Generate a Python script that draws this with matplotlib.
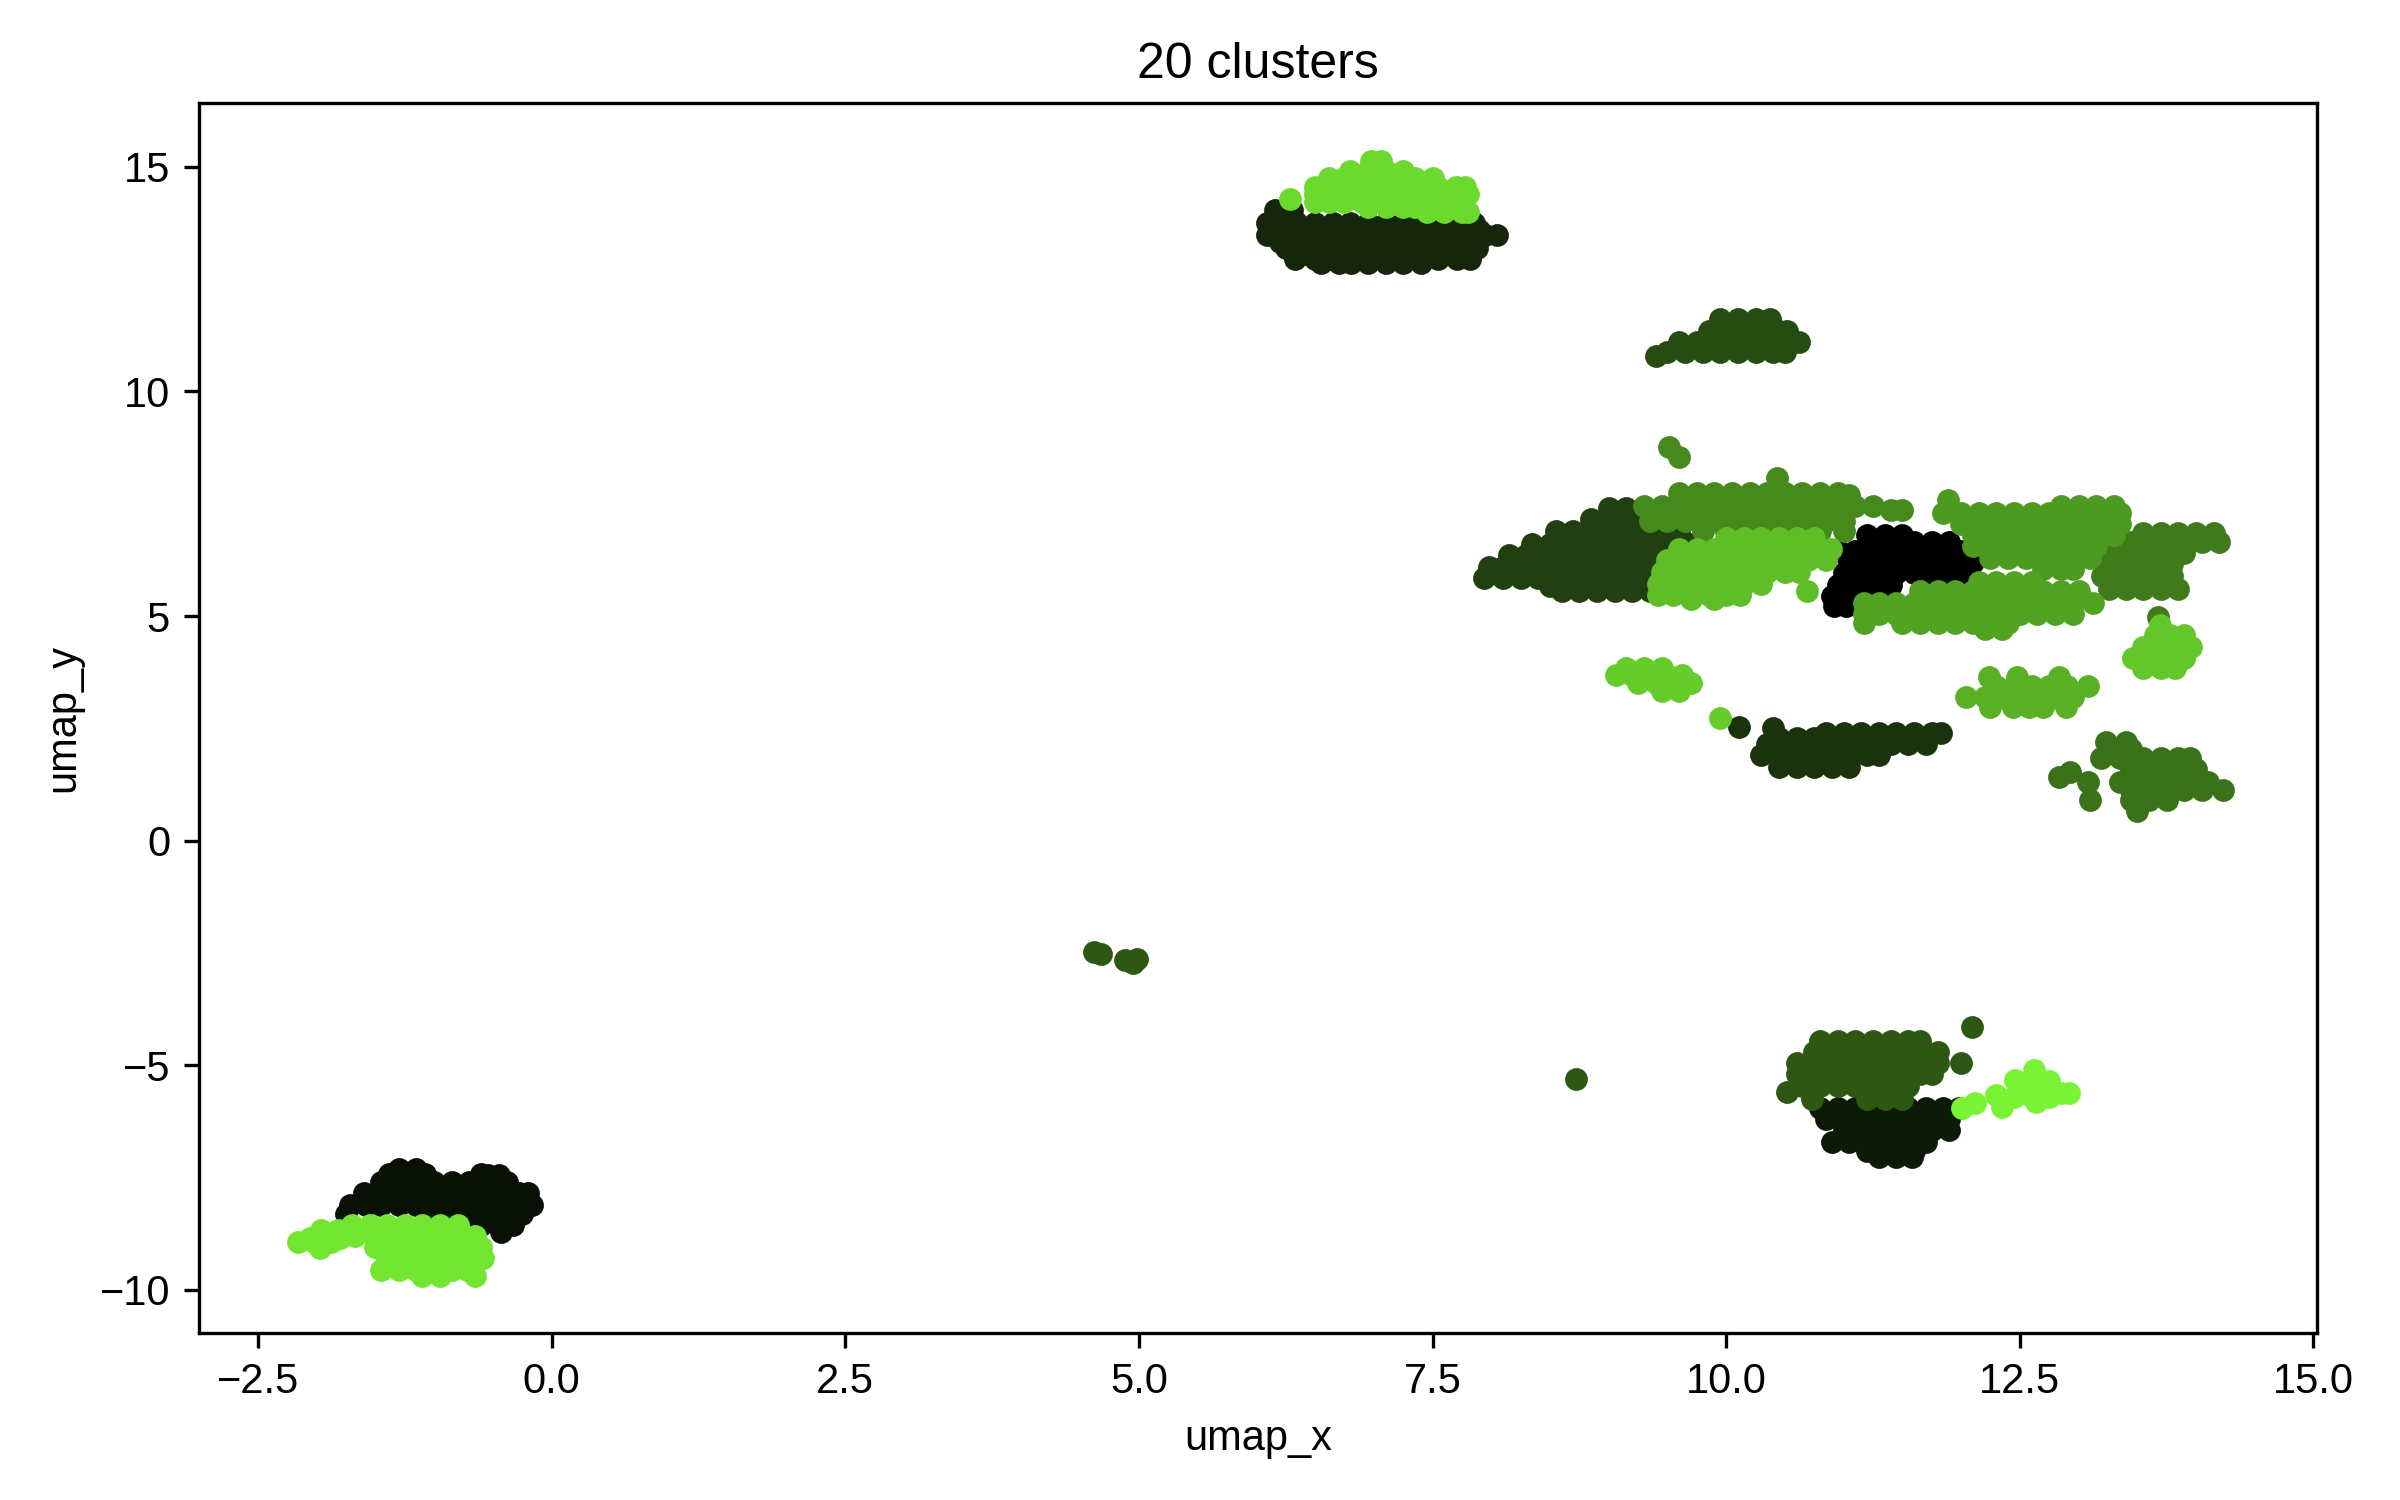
import matplotlib
matplotlib.use("Agg")
import matplotlib.pyplot as plt

plt.rcParams['font.family'] = ['Liberation Sans', 'DejaVu Sans']
plt.rcParams['font.size'] = 10

# cluster points, written as rows: (y, [x, x, ...])
c00 = [(6.8, [11.2, 11.35, 11.5]),
       (6.65, [11.6, 11.75, 11.9]),
       (6.45, [10.96, 11.1, 11.25, 11.4, 11.55, 11.7, 11.85, 12.0]),
       (6.2, [11.05, 11.2, 11.35, 11.5, 11.65, 11.8, 11.95, 12.1]),
       (5.95, [11.0, 11.15, 11.3, 11.45, 11.6, 11.75, 11.9, 12.0]),
       (5.7, [10.95, 11.1, 11.25, 11.4]),
       (5.45, [10.9, 11.05, 11.2]),
       (5.22, [10.92, 11.02])]
c01 = [(-7.3, [-1.3, -1.15]),
       (-7.43, [-1.38, -1.2, -1.08, -0.6]),
       (-7.45, [-0.54, -0.45]),
       (-7.6, [-1.45, -1.3, -1.15, -1.0, -0.85, -0.7, -0.55, -0.45, -0.38]),
       (-7.85, [-1.6, -1.45, -1.3, -1.15, -1.0, -0.85, -0.7, -0.55, -0.4, -0.28, -0.2]),
       (-8.1, [-1.72, -1.58, -1.45, -1.3, -1.15, -1.0, -0.85, -0.7, -0.55, -0.4, -0.28, -0.17]),
       (-8.3, [-1.75, -1.0, -0.85, -0.7, -0.55, -0.4, -0.25]),
       (-8.55, [-0.6, -0.45, -0.33]),
       (-8.7, [-0.43])]
c02 = [(-5.95, [10.8, 10.95, 11.1, 11.25, 11.4, 11.55, 11.7, 11.85, 11.98]),
       (-6.2, [10.85, 11.0, 11.15, 11.3, 11.45, 11.6, 11.75, 11.9]),
       (-6.45, [11.0, 11.15, 11.3, 11.45, 11.6, 11.75, 11.9]),
       (-6.7, [10.9, 11.05, 11.2, 11.3, 11.45, 11.6, 11.7]),
       (-6.9, [11.2, 11.35, 11.5, 11.6]),
       (-7.04, [11.3, 11.45, 11.58])]
c03 = [(14.04, [6.16, 6.3]),
       (13.75, [6.09, 6.2, 6.35, 6.5, 6.65, 6.8, 6.95, 7.1, 7.25, 7.4, 7.55, 7.7, 7.85]),
       (13.6, [6.15, 6.3, 6.45, 7.9]),
       (13.48, [6.09, 6.2, 6.35, 6.5, 6.65, 6.8, 6.95, 7.1, 7.25, 7.4, 7.55, 7.7, 7.85, 7.95, 8.05]),
       (13.33, [6.2, 6.35, 6.5, 6.65, 6.8, 6.95, 7.1, 7.25, 7.4, 7.55]),
       (13.2, [6.25, 6.4, 6.55, 6.7, 6.85, 7.0, 7.15, 7.3, 7.45, 7.6, 7.75, 7.88]),
       (13.05, [6.4, 6.55, 6.7, 6.85, 7.0, 7.15, 7.3, 7.45]),
       (12.95, [6.33, 6.5, 6.65, 6.8, 6.95, 7.1, 7.25, 7.4, 7.55, 7.71, 7.82]),
       (12.85, [6.55, 6.7, 6.81, 6.95, 7.1, 7.25, 7.4])]
c04 = [(2.54, [10.11]),
       (2.5, [10.4]),
       (2.4, [10.85, 11.0, 11.15, 11.3, 11.45, 11.6, 11.75, 11.83]),
       (2.28, [10.45, 10.6, 10.75]),
       (2.15, [10.35, 10.5, 10.65, 10.8, 10.95, 11.1, 11.25, 11.4, 11.55, 11.7]),
       (1.9, [10.3, 10.45, 10.6, 10.75, 10.9, 11.05, 11.2, 11.3]),
       (1.65, [10.45, 10.6, 10.75, 10.9, 11.05])]
c05 = [(7.4, [9.0, 9.15]),
       (7.15, [8.85, 9.0, 9.15, 9.3, 9.45]),
       (6.9, [8.55, 8.7, 8.85, 9.0, 9.15, 9.3, 9.45, 9.6]),
       (6.6, [8.35, 8.5, 8.65, 8.8, 8.95, 9.1, 9.25, 9.4, 9.55, 9.7]),
       (6.35, [8.15, 8.3, 8.45, 8.6, 8.75, 8.9, 9.05, 9.2, 9.35, 9.5, 9.65]),
       (6.1, [7.98, 8.1, 8.25, 8.4, 8.55, 8.7, 8.85, 9.0, 9.15, 9.3, 9.45, 9.6]),
       (5.85, [7.94, 8.1, 8.25, 8.4, 8.55, 8.7, 8.85, 9.0, 9.15, 9.3, 9.45, 9.6]),
       (5.68, [8.5, 8.65, 8.8, 8.95, 9.1, 9.25, 9.4]),
       (5.55, [8.6, 8.75, 8.9, 9.05, 9.2, 9.35])]
c06 = [(10.8, [9.4]),
       (11.62, [9.95, 10.1, 10.25, 10.37]),
       (11.35, [9.85, 10.0, 10.15, 10.3, 10.45, 10.52]),
       (11.1, [9.6, 9.75, 9.9, 10.05, 10.2, 10.35, 10.5, 10.62]),
       (10.88, [9.5, 9.65, 9.8, 9.95, 10.1, 10.25, 10.4, 10.5])]
c07 = [(-2.48, [4.62]), (-2.52, [4.68]), (-2.66, [4.88]), (-2.72, [4.95]), (-2.64, [4.98]),
       (-5.3, [8.72]),
       (-4.14, [12.09]),
       (-4.47, [10.8, 10.95, 11.1, 11.25, 11.4, 11.55, 11.65]),
       (-4.7, [10.75, 10.9, 11.05, 11.2, 11.35, 11.5, 11.65, 11.8]),
       (-4.95, [10.6, 10.75, 10.9, 11.05, 11.2, 11.35, 11.5, 11.65, 11.8, 12.0]),
       (-5.2, [10.6, 10.75, 10.9, 11.05, 11.2, 11.35, 11.5, 11.65, 11.75]),
       (-5.45, [10.65, 10.8, 10.95, 11.1, 11.25, 11.4, 11.55]),
       (-5.59, [10.52]),
       (-5.75, [10.73, 11.2, 11.35, 11.5])]
c08 = [(2.2, [13.23, 13.4]),
       (2.05, [13.45]),
       (1.85, [13.19, 13.35, 13.55, 13.7, 13.85, 13.95]),
       (1.6, [13.45, 13.6, 13.75, 13.9, 14.0]),
       (1.53, [12.93]),
       (1.42, [12.83]),
       (1.31, [13.08, 13.35, 13.5, 13.65, 13.8, 13.95, 14.1]),
       (1.12, [13.45, 13.6, 13.75, 13.9, 14.05, 14.23]),
       (0.9, [13.1, 13.45, 13.6, 13.75]),
       (0.65, [13.5])]
c09 = [(6.85, [13.55, 13.7, 13.85, 14.0, 14.15]),
       (6.65, [13.45, 13.6, 13.75, 13.9, 14.05, 14.2]),
       (6.4, [13.3, 13.45, 13.6, 13.75, 13.9]),
       (6.15, [13.25, 13.4, 13.55, 13.7, 13.8]),
       (5.9, [13.2, 13.35, 13.5, 13.65, 13.8]),
       (5.6, [13.26, 13.4, 13.55, 13.7, 13.85]),
       (4.98, [13.68])]
c10 = [(8.77, [9.51]),
       (8.55, [9.6]),
       (8.07, [10.43]),
       (7.75, [9.6, 9.75, 9.9, 10.05, 10.2, 10.35, 10.5, 10.65, 10.8, 10.95]),
       (7.7, [11.05]),
       (7.45, [9.3, 9.45, 9.6, 9.75, 9.9, 10.05, 10.2, 10.35, 10.5, 10.65, 10.8, 10.95, 11.1, 11.25]),
       (7.36, [11.4, 11.5]),
       (7.12, [9.35, 9.5, 9.65, 9.8, 9.95, 10.1, 10.25, 10.4, 10.55, 10.7, 10.85, 11.0]),
       (6.9, [9.8, 10.0, 10.2, 10.4, 10.6, 10.8, 11.0])]
c11 = [(7.58, [11.89]),
       (7.45, [12.85, 13.0, 13.15, 13.3]),
       (7.3, [11.85, 12.0, 12.15, 12.3, 12.45, 12.6, 12.75, 12.9, 13.05, 13.2, 13.35]),
       (7.05, [12.0, 12.15, 12.3, 12.45, 12.6, 12.75, 12.9, 13.05, 13.2, 13.35]),
       (6.8, [12.1, 12.25, 12.4, 12.55, 12.7, 12.85, 13.0, 13.15, 13.3]),
       (6.55, [12.1, 12.25, 12.4, 12.55, 12.7, 12.85, 13.0, 13.15]),
       (6.3, [12.25, 12.4, 12.55, 12.7, 12.85, 13.0, 13.1]),
       (6.05, [12.7, 12.85, 12.95])]
c12 = [(5.75, [12.15, 12.3, 12.45, 12.6]),
       (5.55, [11.65, 11.8, 11.95, 12.1, 12.25, 12.4, 12.55, 12.7, 12.85, 13.0]),
       (5.3, [11.17, 11.3, 11.45, 11.6, 11.75, 11.9, 12.05, 12.2, 12.35, 12.5, 12.65, 12.8, 12.95, 13.12]),
       (5.05, [11.17, 11.3, 11.45, 11.6, 11.75, 11.9, 12.05, 12.2, 12.35, 12.5, 12.65, 12.8, 12.95]),
       (4.85, [11.17, 11.5, 11.65, 11.8, 11.95, 12.1, 12.25, 12.4]),
       (4.72, [12.2, 12.35])]
c13 = [(3.65, [12.24, 12.48, 12.83]),
       (3.45, [12.3, 12.45, 12.6, 12.75, 12.9, 13.08]),
       (3.2, [12.04, 12.2, 12.35, 12.5, 12.65, 12.8, 12.95]),
       (2.98, [12.25, 12.44, 12.58, 12.7, 12.89])]
c14 = [(6.74, [10.0, 10.15, 10.3, 10.45, 10.6, 10.75]),
       (6.5, [9.6, 9.75, 9.9, 10.05, 10.2, 10.35, 10.5, 10.65, 10.8, 10.89]),
       (6.25, [9.5, 9.65, 9.8, 9.95, 10.1, 10.25, 10.4, 10.55, 10.7, 10.85]),
       (5.98, [9.45, 9.6, 9.75, 9.9, 10.05, 10.2, 10.35, 10.5, 10.62]),
       (5.72, [9.42, 9.55, 9.7, 9.85, 10.0, 10.15, 10.3]),
       (5.48, [9.42, 9.55, 9.7, 9.85, 10.0, 10.12]),
       (5.39, [9.7, 9.9]),
       (5.56, [10.69])]
c15 = [(4.8, [13.69]),
       (4.58, [13.65, 13.78, 13.9]),
       (4.32, [13.55, 13.7, 13.85, 13.96]),
       (4.06, [13.46, 13.6, 13.75, 13.9]),
       (3.85, [13.55, 13.7, 13.82])]
c16 = [(3.85, [9.15, 9.3, 9.45]),
       (3.68, [9.06, 9.2, 9.35, 9.5, 9.62]),
       (3.5, [9.25, 9.4, 9.55, 9.7]),
       (3.33, [9.45, 9.6]),
       (2.72, [9.95])]
c17 = [(15.12, [6.98, 7.06]),
       (14.9, [6.8, 6.95, 7.1, 7.25]),
       (14.75, [6.62, 6.75, 6.9, 7.05, 7.2, 7.35, 7.5]),
       (14.55, [6.5, 6.65, 6.8, 6.95, 7.1, 7.25, 7.4, 7.55, 7.7, 7.78]),
       (14.4, [6.5, 6.65, 6.8, 6.95, 7.1, 7.25, 7.4, 7.55, 7.7, 7.8]),
       (14.22, [6.5, 6.62, 6.75, 6.9]),
       (14.1, [6.95, 7.1, 7.25, 7.35]),
       (13.99, [7.45, 7.6, 7.75, 7.8]),
       (14.28, [6.29])]
c18 = [(-8.93, [-2.16, -2.02, -1.88]), (-8.67, [-1.96, -1.82]), (-9.07, [-1.97]),
       (-8.85, [-2.06, -1.8]),
       (-8.55, [-1.7, -1.55, -1.4, -1.25, -1.1, -0.95, -0.8]),
       (-8.8, [-1.67, -1.5, -1.35, -1.2, -1.05, -0.9, -0.75, -0.65]),
       (-9.05, [-1.5, -1.4, -1.25, -1.1, -0.95, -0.8, -0.65, -0.6]),
       (-9.3, [-1.4, -1.3, -1.15, -1.0, -0.85, -0.7, -0.58]),
       (-9.55, [-1.45, -1.3, -1.15, -1.0, -0.85, -0.72]),
       (-9.7, [-1.1, -0.95, -0.65])]
c19 = [(-5.96, [12.01]), (-5.85, [12.12]), (-5.92, [12.35]), (-5.65, [12.3]),
       (-5.33, [12.46]), (-5.1, [12.62]), (-5.35, [12.75]),
       (-5.45, [12.55, 12.7]),
       (-5.62, [12.85, 12.92]),
       (-5.7, [12.45, 12.6, 12.75]),
       (-5.82, [12.64])]

clusters = [c00, c01, c02, c03, c04, c05, c06, c07, c08, c09,
            c10, c11, c12, c13, c14, c15, c16, c17, c18, c19]
shades = ['#000000', '#091105', '#0e1a08', '#15260b', '#1b330d',
          '#213f10', '#274c12', '#2f5714', '#397218', '#3f7b1b',
          '#468a1d', '#4d9a20', '#52a322', '#59b025', '#5fbe28',
          '#63c62a', '#66cc2b', '#6bd92d', '#71e530', '#7af335']

fig = plt.figure(figsize=(8, 5), dpi=300)
ax = fig.add_subplot(111)
fig.subplots_adjust(left=0.083, right=0.9654, top=0.9313, bottom=0.1113)

for rows, col in zip(clusters, shades):
    xs = [x for y, row in rows for x in row]
    ys = [y for y, row in rows for x in row]
    ax.scatter(xs, ys, s=20, color=col)

ax.set_xlim(-3.0, 15.03)
ax.set_ylim(-10.96, 16.42)
ax.set_title('20 clusters')
ax.set_xlabel('umap_x')
ax.set_ylabel('umap_y')

fig.savefig('out.png', dpi=300)
